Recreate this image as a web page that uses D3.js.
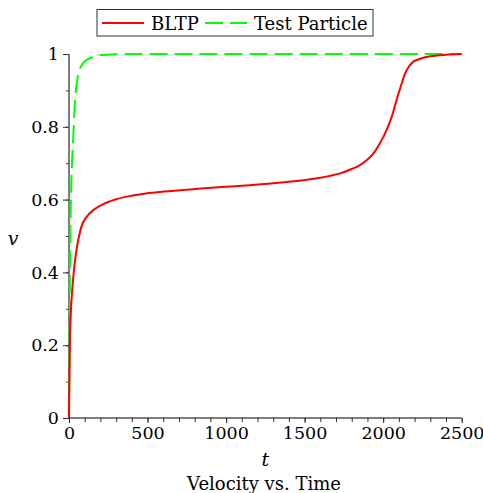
<!DOCTYPE html>
<html>
<head>
<meta charset="utf-8">
<script src="https://cdn.jsdelivr.net/npm/d3@7"></script>
<style>
  body { margin: 0; background: #fff; }
  text { font-family: "DejaVu Serif", serif; fill: #000; }
</style>
</head>
<body>
<svg id="chart" width="483" height="493"></svg>
<script>
// BLTP curve (t, v)
const bltpT = [0, 4, 8, 14, 22, 34, 55, 87, 130, 193, 300, 405, 490, 600, 800, 1025, 1250, 1450, 1600, 1726, 1800, 1853, 1900, 1938, 1970, 2002, 2030, 2055, 2086, 2118, 2150, 2192, 2235, 2300, 2400, 2500];
const bltpV = [0, 0.15, 0.25, 0.31, 0.36, 0.416, 0.48, 0.535, 0.562, 0.582, 0.601, 0.611, 0.617, 0.622, 0.629, 0.636, 0.643, 0.651, 0.66, 0.672, 0.684, 0.695, 0.71, 0.727, 0.748, 0.773, 0.8, 0.828, 0.874, 0.919, 0.956, 0.979, 0.987, 0.994, 0.998, 1];

// Test particle curve
const testT = [0, 3, 6, 10, 15, 20, 27, 38, 50, 66, 90, 113, 176, 300, 600, 2500];
const testV = [0, 0.2, 0.4, 0.55, 0.65, 0.71, 0.77, 0.87, 0.92, 0.956, 0.975, 0.984, 0.995, 0.999, 1, 1];

const xTicks = [0, 500, 1000, 1500, 2000, 2500];
const yTicks = [0, 0.2, 0.4, 0.6, 0.8, 1];
const legendLabels = ["BLTP", "Test Particle"];

const svg = d3.select("#chart");
const x = d3.scaleLinear().domain([0, 2500]).range([69, 461.7]);
const y = d3.scaleLinear().domain([0, 1]).range([418, 54]);

const line = d3.line()
  .x(d => x(d[0]))
  .y(d => y(d[1]))
  .curve(d3.curveCatmullRom.alpha(0.5));

// axes, major and minor ticks
const xAxis = svg.append("g")
  .attr("transform", `translate(0,${y(0)})`)
  .call(d3.axisBottom(x).tickValues(xTicks).tickFormat(d3.format("d")).tickSize(5).tickPadding(4));
svg.append("g")
  .attr("transform", `translate(0,${y(0)})`)
  .call(d3.axisBottom(x).tickValues(d3.range(0, 2501, 100)).tickFormat("").tickSize(4))
  .select(".domain").remove();

const yAxis = svg.append("g")
  .attr("transform", `translate(${x(0)},0)`)
  .call(d3.axisLeft(y).tickValues(yTicks).tickFormat(d => d === 0 || d === 1 ? d : d3.format(".1f")(d)).tickSize(6).tickPadding(4));
svg.append("g")
  .attr("transform", `translate(${x(0)},0)`)
  .call(d3.axisLeft(y).tickValues(d3.range(0, 1.001, 0.1)).tickFormat("").tickSize(3))
  .select(".domain").remove();

xAxis.select(".domain").remove();
yAxis.select(".domain").remove();
svg.append("line").attr("x1", x(0)).attr("x2", x(2500)).attr("y1", y(0)).attr("y2", y(0))
  .attr("stroke", "#000").attr("stroke-width", 1);
svg.append("line").attr("x1", x(0)).attr("x2", x(0)).attr("y1", y(0)).attr("y2", y(1))
  .attr("stroke", "#555").attr("stroke-width", 1.5);

svg.selectAll(".tick line").attr("stroke", "#333");
svg.selectAll(".tick text")
  .style("font-family", "DejaVu Serif, serif")
  .style("font-size", "17.5px")
  .attr("fill", "#000");

// curves
svg.append("path")
  .datum(testT.map((t, i) => [t, testV[i]]))
  .attr("fill", "none")
  .attr("stroke", "#00ff00")
  .attr("stroke-width", 2)
  .attr("stroke-dasharray", "18,7")
  .attr("d", line);

svg.append("path")
  .datum(bltpT.map((t, i) => [t, bltpV[i]]))
  .attr("fill", "none")
  .attr("stroke", "#ff0000")
  .attr("stroke-width", 2)
  .attr("d", line);

// axis titles
svg.append("text").attr("x", x(1250)).attr("y", 466)
  .attr("text-anchor", "middle").style("font-size", "19px").style("font-style", "italic").text("t");
svg.append("text").attr("x", 13).attr("y", 245)
  .attr("text-anchor", "middle").style("font-size", "19px").style("font-style", "italic").text("v");
svg.append("text").attr("x", 264).attr("y", 490)
  .attr("text-anchor", "middle").style("font-size", "18px").text("Velocity vs. Time");

// legend
const legend = svg.append("g");
legend.append("rect").attr("x", 97).attr("y", 9.5).attr("width", 276).attr("height", 26.5)
  .attr("fill", "#fff").attr("stroke", "#333").attr("stroke-width", 1);
const legendColors = ["#ff0000", "#00ff00"];
const legendDash = [null, "18,7"];
const legendX = [102, 205];
legendLabels.forEach((lab, i) => {
  legend.append("line").attr("x1", legendX[i]).attr("x2", legendX[i] + 42)
    .attr("y1", 23).attr("y2", 23)
    .attr("stroke", legendColors[i]).attr("stroke-width", 2)
    .attr("stroke-dasharray", legendDash[i]);
  legend.append("text").attr("x", legendX[i] + 49).attr("y", 30)
    .style("font-size", "18px").text(lab);
});
</script>
</body>
</html>
